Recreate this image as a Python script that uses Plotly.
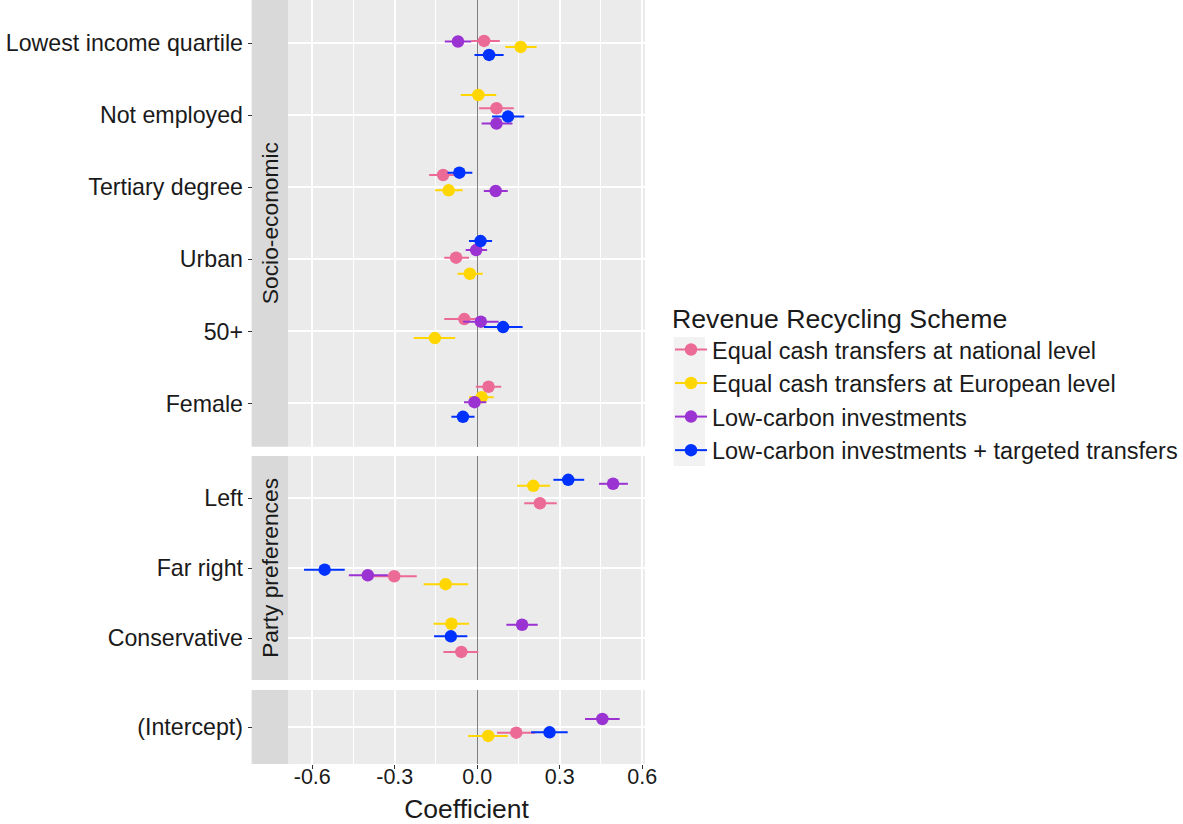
import plotly.graph_objects as go

# ---------------- data ----------------
terms = ["Lowest income quartile", "Not employed", "Tertiary degree", "Urban", "50+", "Female",
         "Left", "Far right", "Conservative", "(Intercept)"]
groups = ["Socio-economic"] * 6 + ["Party preferences"] * 3 + [""]
group_order = ["Socio-economic", "Party preferences", ""]

schemes = ["Equal cash transfers at national level",
           "Equal cash transfers at European level",
           "Low-carbon investments",
           "Low-carbon investments + targeted transfers"]

coef_national = [0.025, 0.070, -0.124, -0.077, -0.047, 0.041, 0.228, -0.302, -0.058, 0.142]
lo_national   = [-0.022, 0.007, -0.175, -0.120, -0.120, -0.005, 0.171, -0.386, -0.123, 0.072]
hi_national   = [0.082, 0.133, -0.078, -0.030, 0.012, 0.087, 0.289, -0.220, 0.004, 0.211]
jit_national  = [-0.032, -0.097, -0.171, -0.024, -0.171, -0.232, 0.075, 0.118, 0.199, 0.092]

coef_european = [0.158, 0.004, -0.104, -0.027, -0.154, 0.016, 0.204, -0.115, -0.094, 0.040]
lo_european   = [0.102, -0.060, -0.153, -0.072, -0.231, -0.030, 0.145, -0.195, -0.159, -0.033]
hi_european   = [0.216, 0.069, -0.053, 0.020, -0.080, 0.060, 0.265, -0.033, -0.030, 0.111]
jit_european  = [0.051, -0.282, 0.042, 0.199, 0.093, -0.088, -0.174, 0.231, -0.203, 0.145]

coef_lowcarbon = [-0.070, 0.070, 0.067, -0.004, 0.013, -0.010, 0.494, -0.398, 0.163, 0.455]
lo_lowcarbon   = [-0.118, 0.016, 0.024, -0.042, -0.051, -0.048, 0.443, -0.467, 0.106, 0.392]
hi_lowcarbon   = [-0.022, 0.128, 0.111, 0.036, 0.078, 0.033, 0.548, -0.325, 0.220, 0.518]
jit_lowcarbon  = [-0.024, 0.115, 0.051, -0.129, -0.135, -0.018, -0.203, 0.104, -0.189, -0.130]

coef_targeted = [0.043, 0.112, -0.065, 0.012, 0.094, -0.052, 0.331, -0.555, -0.096, 0.263]
lo_targeted   = [-0.010, 0.054, -0.108, -0.030, 0.024, -0.094, 0.277, -0.630, -0.157, 0.196]
hi_targeted   = [0.096, 0.171, -0.018, 0.054, 0.165, -0.010, 0.389, -0.482, -0.036, 0.329]
jit_targeted  = [0.162, 0.018, -0.204, -0.254, -0.060, 0.185, -0.260, 0.024, -0.024, 0.086]

x_ticks = [-0.6, -0.3, 0.0, 0.3, 0.6]
x_tick_labels = ["-0.6", "-0.3", "0.0", "0.3", "0.6"]
x_minor = [-0.45, -0.15, 0.15, 0.45]

# ---------------- styling ----------------
colors = ["#EC6A96", "#FFD600", "#9B32D2", "#0032FF"]
FONT = "Liberation Sans, Arial, sans-serif"
TXT = "#1A1A1A"
W, H = 1183, 824
MB = 60
PH = H - MB  # plot-area height

def px_x(p):
    return p / W

def px_y(p):
    return 1 - p / PH

x_dom = [px_x(289.3), px_x(647.7)]
panel_px = [(0, 446.7), (456, 680), (690, 764)]
y_doms = [[px_y(b), px_y(t)] for (t, b) in panel_px]
strip_x = [px_x(252.7), px_x(289.3)]

series = [
    (coef_national, lo_national, hi_national, jit_national),
    (coef_european, lo_european, hi_european, jit_european),
    (coef_lowcarbon, lo_lowcarbon, hi_lowcarbon, jit_lowcarbon),
    (coef_targeted, lo_targeted, hi_targeted, jit_targeted),
]

fig = go.Figure()

axis_suffix = ["", "2", "3"]

for s, (coef, lo, hi, jit) in enumerate(series):
    for g, gname in enumerate(group_order):
        idx = [i for i, gg in enumerate(groups) if gg == gname]
        gterms = [terms[i] for i in idx]
        ys = [gterms.index(terms[i]) + jit[i] for i in idx]
        xs = [coef[i] for i in idx]
        fig.add_trace(go.Scatter(
            x=xs, y=ys, mode="markers",
            marker=dict(color=colors[s], size=12.5, line=dict(width=0)),
            error_x=dict(type="data", symmetric=False,
                         array=[hi[i] - coef[i] for i in idx],
                         arrayminus=[coef[i] - lo[i] for i in idx],
                         color=colors[s], thickness=2, width=0),
            xaxis="x" + axis_suffix[g], yaxis="y" + axis_suffix[g],
            showlegend=False, legendgroup=schemes[s], name=schemes[s],
            hovertext=[terms[i] for i in idx],
        ))

# legend entries (point + line glyph)
for s in range(4):
    fig.add_trace(go.Scatter(
        x=[None], y=[None], mode="lines+markers", name=schemes[s],
        marker=dict(color=colors[s], size=12.5),
        line=dict(color=colors[s], width=2),
        legendgroup=schemes[s], showlegend=True,
    ))

layout = dict(
    width=W, height=H,
    margin=dict(l=0, r=0, t=0, b=MB),
    paper_bgcolor="white", plot_bgcolor="#EBEBEB",
    font=dict(family=FONT, color=TXT),
    legend=dict(
        title=dict(text="Revenue Recycling Scheme", font=dict(size=26.7, color=TXT)),
        font=dict(size=23.5, color=TXT),
        x=px_x(673), xanchor="left", y=px_y(293), yanchor="top",
        bgcolor="rgba(0,0,0,0)", tracegroupgap=0, itemwidth=32,
    ),
    shapes=[], annotations=[],
)

for g, gname in enumerate(group_order):
    idx = [i for i, gg in enumerate(groups) if gg == gname]
    gterms = [terms[i] for i in idx]
    n = len(gterms)
    xa = dict(
        domain=x_dom, range=[-0.688, 0.610], anchor="y" + axis_suffix[g],
        tickvals=x_ticks, ticktext=x_tick_labels,
        showgrid=True, gridcolor="white", gridwidth=1.8,
        minor=dict(tickvals=x_minor, showgrid=True, gridcolor="white", gridwidth=0.9, ticks=""),
        zeroline=True, zerolinecolor="#7F7F7F", zerolinewidth=1,
        showline=False, automargin=False,
    )
    if g == 2:
        xa.update(ticks="outside", ticklen=4, tickcolor="#333333", tickwidth=1,
                  tickfont=dict(size=21.5, color=TXT), ticklabelstandoff=-11,
                  title=dict(text="Coefficient", font=dict(size=26.5, color=TXT), standoff=14))
    else:
        xa.update(showticklabels=False, ticks="", matches="x3")
    layout["xaxis" + axis_suffix[g]] = xa
    layout["yaxis" + axis_suffix[g]] = dict(
        domain=y_doms[g], range=[n - 1 + 0.6, -0.6],
        anchor="free", position=strip_x[0],
        tickvals=list(range(n)), ticktext=gterms,
        ticks="outside", ticklen=4, tickcolor="#333333", tickwidth=1,
        tickfont=dict(size=23.2, color=TXT),
        showgrid=True, gridcolor="white", gridwidth=1.8,
        zeroline=False, showline=False, automargin=False,
    )
    # facet strip
    layout["shapes"].append(dict(
        type="rect", xref="paper", yref="paper",
        x0=strip_x[0], x1=strip_x[1], y0=y_doms[g][0], y1=y_doms[g][1],
        fillcolor="#D9D9D9", line=dict(width=0), layer="below",
    ))
    if gname:
        layout["annotations"].append(dict(
            text=gname, xref="paper", yref="paper",
            x=(strip_x[0] + strip_x[1]) / 2, y=(y_doms[g][0] + y_doms[g][1]) / 2,
            textangle=-90, showarrow=False, font=dict(size=22.8, color=TXT),
            xanchor="center", yanchor="middle",
        ))

# legend key background
layout["shapes"].append(dict(
    type="rect", xref="paper", yref="paper",
    x0=px_x(676.5), x1=px_x(708), y0=px_y(466), y1=px_y(337),
    fillcolor="#F2F2F2", line=dict(width=0), layer="below",
))

fig.update_layout(**layout)
fig.write_html("out.html", config={"displayModeBar": False},
               post_script="document.body.style.margin='0';")
